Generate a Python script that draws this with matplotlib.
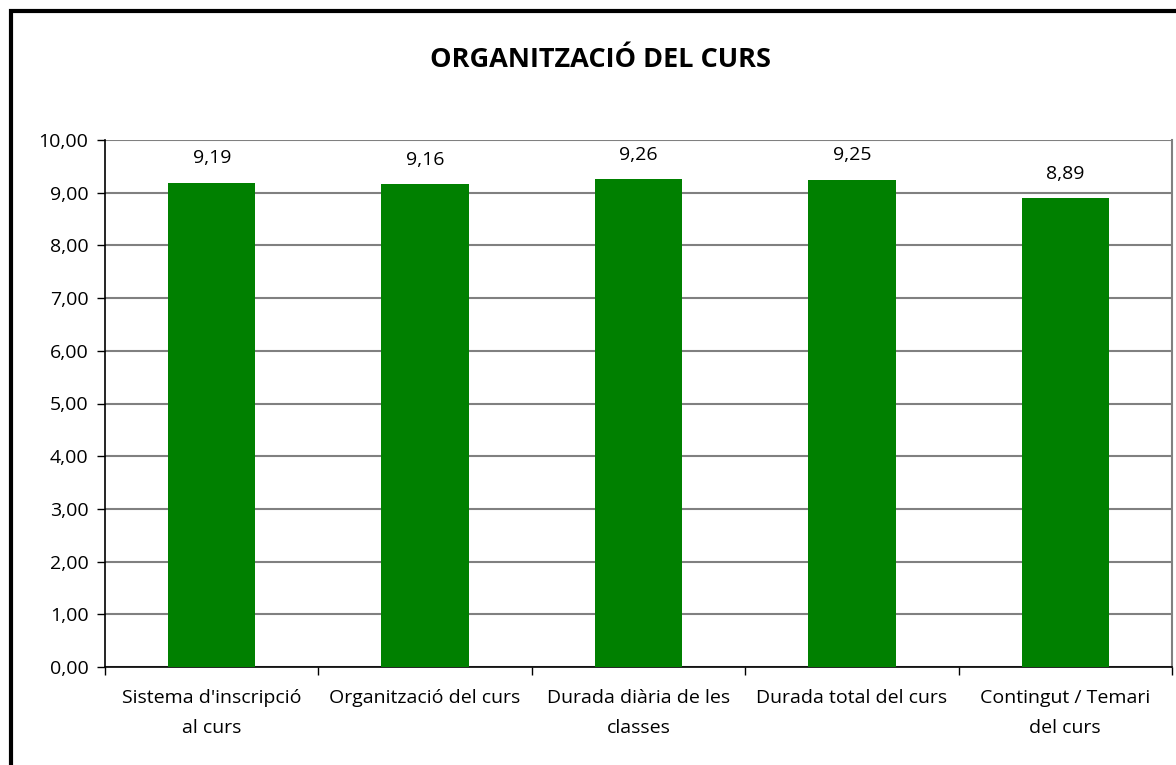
import matplotlib
matplotlib.use("Agg")
import matplotlib.pyplot as plt
from matplotlib.patches import Rectangle
from matplotlib.ticker import FuncFormatter, MultipleLocator

categories = ["Sistema d'inscripció\nal curs", "Organització del curs",
              "Durada diària de les\nclasses", "Durada total del curs",
              "Contingut / Temari\ndel curs"]
values = [9.19, 9.16, 9.26, 9.25, 8.89]
title = "ORGANITZACIÓ DEL CURS"

plt.rcParams['font.family'] = ['Open Sans', 'DejaVu Sans']

W, H = 1176, 765
fig = plt.figure(figsize=(W/100, H/100), dpi=100)
fig.patch.set_facecolor('white')

# outer border (extends beyond right/bottom edges)
fig.add_artist(Rectangle((10.5/W, -0.1), 1.2, 1 - 11.5/H + 0.1, transform=fig.transFigure,
                         fill=False, edgecolor='black', linewidth=3, clip_on=False))

left, right, top, bottom = 105, 1172, 140, 667
ax = fig.add_axes([left/W, 1 - bottom/H, (right-left)/W, (bottom-top)/H])

x = list(range(len(categories)))
ax.bar(x, values, width=0.41, color='#008000', zorder=3)
for xi, v in zip(x, values):
    ax.annotate(f"{v:.2f}".replace('.', ','), (xi, v), xytext=(0, 11), textcoords='offset points',
                ha='center', va='bottom', fontsize=14)

ax.set_xlim(-0.5, len(categories) - 0.5)
ax.set_ylim(0, 10)
ax.yaxis.set_major_locator(MultipleLocator(1))
ax.yaxis.set_major_formatter(FuncFormatter(lambda v, p: f"{v:.2f}".replace('.', ',')))
ax.grid(axis='y', color='#808080', linewidth=1.5, zorder=0)

ax.set_xticks([i - 0.5 for i in range(len(categories) + 1)], minor=False)
ax.set_xticklabels([])
ax.set_xticks(x, minor=True)
ax.set_xticklabels(categories, minor=True, fontsize=14, linespacing=1.85)
ax.tick_params(axis='x', which='minor', length=0, pad=16)
ax.tick_params(axis='x', which='major', length=6, width=1, direction='out', color='black')
ax.tick_params(axis='y', length=6, width=1, direction='out', labelsize=14, pad=6)

for s in ['left', 'bottom']:
    ax.spines[s].set_color('black')
    ax.spines[s].set_linewidth(1.2)
ax.spines['right'].set_color('#808080')
ax.spines['right'].set_linewidth(1.5)
ax.spines['top'].set_visible(False)

fig.text(601 / W, 1 - 60/H, title, ha='center', va='center',
         fontsize=19.5, fontweight='bold')

fig.savefig('out.png', dpi=100)
